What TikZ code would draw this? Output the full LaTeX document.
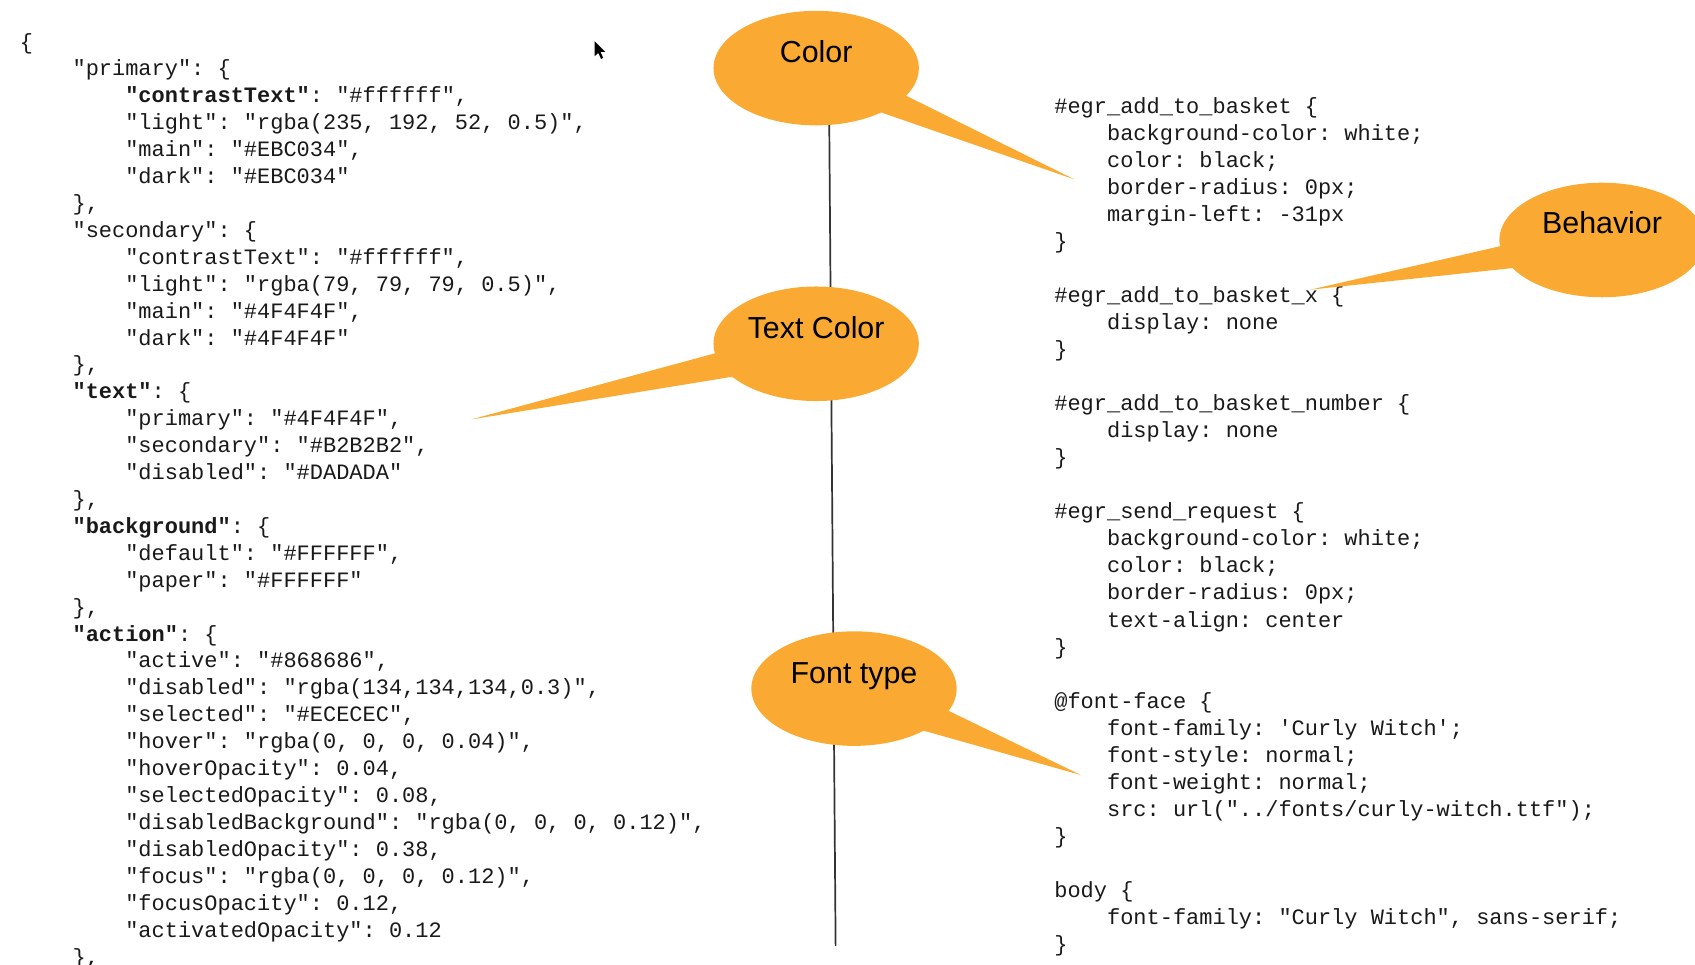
\documentclass[tikz,border=0pt]{standalone}
\usepackage{fontspec}
\setmainfont{Liberation Sans}
\setmonofont{Liberation Mono}
\usetikzlibrary{shapes.geometric}
\definecolor{bubbleorange}{RGB}{250,170,50}
\definecolor{ink}{RGB}{25,25,25}
\newcommand{\codeind}{\hspace*{2.4em}}

\begin{document}
\begin{tikzpicture}[x=0.02cm, y=-0.02cm,
  bubble/.style={ellipse, fill=bubbleorange, inner sep=0, minimum width=3.8cm, minimum height=2.12cm},
  bubtext/.style={anchor=base, inner sep=0, text=black, font=\fontsize{16}{19}\selectfont},
  code/.style={anchor=north west, align=left, inner sep=0, text=ink, font={\ttfamily\fontsize{11.57}{14.17}\selectfont}}]
\useasboundingbox (0,0) rectangle (1568,892);
\clip (0,0) rectangle (1568,892);

% the theme file
\node[code] (palette) at (18,27.4) {\rule{0pt}{10pt}\{\\
\codeind"primary": \{\\
\codeind\codeind\textbf{"contrastText"}: "\#ffffff",\\
\codeind\codeind"light": "rgba(235, 192, 52, 0.5)",\\
\codeind\codeind"main": "\#EBC034",\\
\codeind\codeind"dark": "\#EBC034"\\
\codeind\},\\
\codeind"secondary": \{\\
\codeind\codeind"contrastText": "\#ffffff",\\
\codeind\codeind"light": "rgba(79, 79, 79, 0.5)",\\
\codeind\codeind"main": "\#4F4F4F",\\
\codeind\codeind"dark": "\#4F4F4F"\\
\codeind\},\\
\codeind\textbf{"text"}: \{\\
\codeind\codeind"primary": "\#4F4F4F",\\
\codeind\codeind"secondary": "\#B2B2B2",\\
\codeind\codeind"disabled": "\#DADADA"\\
\codeind\},\\
\codeind\textbf{"background"}: \{\\
\codeind\codeind"default": "\#FFFFFF",\\
\codeind\codeind"paper": "\#FFFFFF"\\
\codeind\},\\
\codeind\textbf{"action"}: \{\\
\codeind\codeind"active": "\#868686",\\
\codeind\codeind"disabled": "rgba(134,134,134,0.3)",\\
\codeind\codeind"selected": "\#ECECEC",\\
\codeind\codeind"hover": "rgba(0, 0, 0, 0.04)",\\
\codeind\codeind"hoverOpacity": 0.04,\\
\codeind\codeind"selectedOpacity": 0.08,\\
\codeind\codeind"disabledBackground": "rgba(0, 0, 0, 0.12)",\\
\codeind\codeind"disabledOpacity": 0.38,\\
\codeind\codeind"focus": "rgba(0, 0, 0, 0.12)",\\
\codeind\codeind"focusOpacity": 0.12,\\
\codeind\codeind"activatedOpacity": 0.12\\
\codeind\},};

% the style sheet
\node[code, font={\ttfamily\fontsize{11.57}{14.22}\selectfont}] (styles) at (975,87.4) {\rule{0pt}{10pt}\#egr\_add\_to\_basket \{\\
\codeind background-color: white;\\
\codeind color: black;\\
\codeind border-radius: 0px;\\
\codeind margin-left: -31px\\
\}\\ \mbox{}\\
\#egr\_add\_to\_basket\_x \{\\
\codeind display: none\\
\}\\ \mbox{}\\
\#egr\_add\_to\_basket\_number \{\\
\codeind display: none\\
\}\\ \mbox{}\\
\#egr\_send\_request \{\\
\codeind background-color: white;\\
\codeind color: black;\\
\codeind border-radius: 0px;\\
\codeind text-align: center\\
\}\\ \mbox{}\\
@font-face \{\\
\codeind font-family: 'Curly Witch';\\
\codeind font-style: normal;\\
\codeind font-weight: normal;\\
\codeind src: url("../fonts/curly-witch.ttf");\\
\}\\ \mbox{}\\
body \{\\
\codeind font-family: "Curly Witch", sans-serif;\\
\}};

% mouse pointer
\fill[black] (550,38) -- (550,52) -- (553.5,49) -- (556,54.5) -- (558,53.5) -- (555.5,48) -- (560,48) -- cycle;

% divider
\coordinate (linetop) at (767,100);
\coordinate (linebot) at (773,875);
\draw[line width=0.9pt, black!80] (linetop) -- (linebot);

% tails
\coordinate (colortip) at (994,166);
\coordinate (texttip) at (436,388);
\coordinate (fonttip) at (1000,717);
\coordinate (behavtip) at (1212,268);
\fill[bubbleorange] (819,79) -- (colortip) -- (792,96) -- cycle;
\fill[bubbleorange] (694,318) -- (texttip) -- (711,343) -- cycle;
\fill[bubbleorange] (864,651) -- (fonttip) -- (837,671) -- cycle;
\fill[bubbleorange] (1413,222) -- (behavtip) -- (1427,245) -- cycle;

% bubbles
\node[bubble] (colorb) at (755,63) {};
\node[bubble] (textb) at (755,318) {};
\node[bubble] (fontb) at (790,637) {};
\node[bubble] (behavb) at (1482,222) {};
\node[bubtext] at ([yshift=0.1cm]colorb.center) {Color};
\node[bubtext] at ([yshift=0.1cm]textb.center) {Text Color};
\node[bubtext] at ([yshift=0.1cm]fontb.center) {Font type};
\node[bubtext] at ([yshift=0.12cm]behavb.center) {Behavior};
\end{tikzpicture}
\end{document}
